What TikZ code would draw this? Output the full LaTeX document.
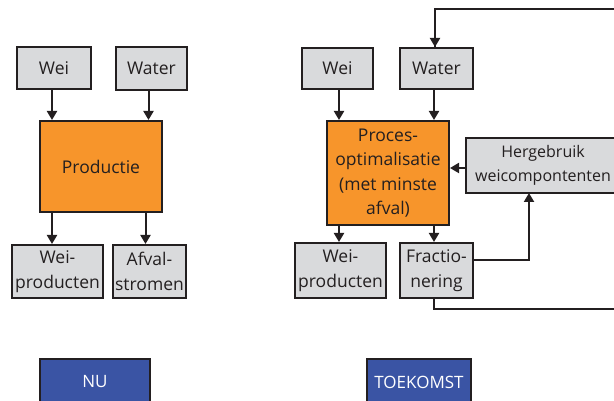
\documentclass[tikz,border=0pt]{standalone}
\usepackage{fontspec}
\setmainfont{Open Sans}
\usetikzlibrary{arrows.meta,calc}
\definecolor{boxgray}{HTML}{D9DADC}
\definecolor{procorange}{HTML}{F7952B}
\definecolor{labelblue}{HTML}{3A54A4}
\definecolor{edge}{HTML}{231F20}
\begin{document}
\begin{tikzpicture}[x=1pt,y=-1pt,
  box/.style={draw=edge,line width=2pt,fill=boxgray,inner sep=0pt,align=center,
    font=\fontsize{17.5}{24.5}\selectfont,text=edge},
  orangebox/.style={box,fill=procorange},
  labelbox/.style={draw=edge,line width=1.5pt,fill=labelblue,inner sep=0pt,
    font=\fontsize{17}{20}\selectfont,text=white},
  arr/.style={draw=edge,line width=2pt,-{Triangle[length=9pt,width=10pt]}},
  ln/.style={draw=edge,line width=2pt}]
\useasboundingbox (0,0) rectangle (614,401);
\clip (0,0) rectangle (614,401);
% ---------- NU ----------
\node[box,minimum width=74pt,minimum height=42pt] (wei1) at (54,68) {Wei};
\node[box,minimum width=71pt,minimum height=43pt] (water1) at (151.5,68.5) {Water};
\node[orangebox,minimum width=122pt,minimum height=91pt] (prod) at (101,166.5) {Productie};
\node[box,minimum width=91pt,minimum height=53pt] (wp1) at (57.5,271.5) {Wei-\\producten};
\node[box,minimum width=73pt,minimum height=53pt] (afv) at (149.5,271.5) {Afval-\\stromen};
\draw[arr] ([xshift=-2pt]wei1.south) -- ([xshift=-2pt]wei1.south |- prod.north);
\draw[arr] ([xshift=-3pt]water1.south) -- ([xshift=-3pt]water1.south |- prod.north);
\draw[arr] ([xshift=-2pt]prod.south -| wei1.south) -- ([xshift=-2pt]wp1.north -| wei1.south);
\draw[arr] ([xshift=-6pt]prod.south -| water1.south) -- ([xshift=-6pt]afv.north -| water1.south);
% ---------- TOEKOMST ----------
\node[box,minimum width=71pt,minimum height=41pt] (wei2) at (337.5,68.5) {Wei};
\node[box,minimum width=73pt,minimum height=41pt] (water2) at (436.5,68.5) {Water};
\node[orangebox,minimum width=122pt,minimum height=104pt] (proc) at (388,173)
  {Proces-\\optimalisatie\\(met minste\\afval)};
\node[box,minimum width=154pt,minimum height=55pt,font=\fontsize{16}{24.5}\selectfont] (herg) at (543,165.5)
  {Hergebruik\\weicompontenten};
\node[box,minimum width=91pt,minimum height=55pt] (wp2) at (340.5,270.5) {Wei-\\producten};
\node[box,minimum width=73pt,minimum height=55pt] (frac) at (436.5,270.5) {Fractio-\\nering};
\draw[arr] ([xshift=1.5pt]wei2.south) -- ([xshift=1.5pt]wei2.south |- proc.north);
\draw[arr] ([xshift=-2.5pt]water2.south) -- ([xshift=-2.5pt]water2.south |- proc.north);
\draw[arr] ([xshift=1.5pt]proc.south -| wei2.south) -- ([xshift=1.5pt]wp2.north -| wei2.south);
\draw[arr] ([xshift=-2.5pt]proc.south -| water2.south) -- ([xshift=-2.5pt]frac.north -| water2.south);
\draw[arr] ([yshift=-2.5pt]herg.west) -- ([yshift=-2.5pt]herg.west -| proc.east);
\coordinate (hb) at (529,193);
\draw[arr] ([yshift=10.5pt]frac.east) -| (hb);
\coordinate (loopbr) at (640,309);
\coordinate (looptr) at (640,9);
\draw[ln] ([xshift=-2.5pt]frac.south) |- (loopbr) -- (looptr) -| ([xshift=-1.5pt]water2.north);
\draw[arr] (435,9) -- ([xshift=-1.5pt]water2.north);
% ---------- labels ----------
\node[labelbox,minimum width=110pt,minimum height=46pt] (nu) at (95,382) {NU};
\node[labelbox,minimum width=104pt,minimum height=46pt] (toek) at (419,382) {TOEKOMST};
\end{tikzpicture}
\end{document}
